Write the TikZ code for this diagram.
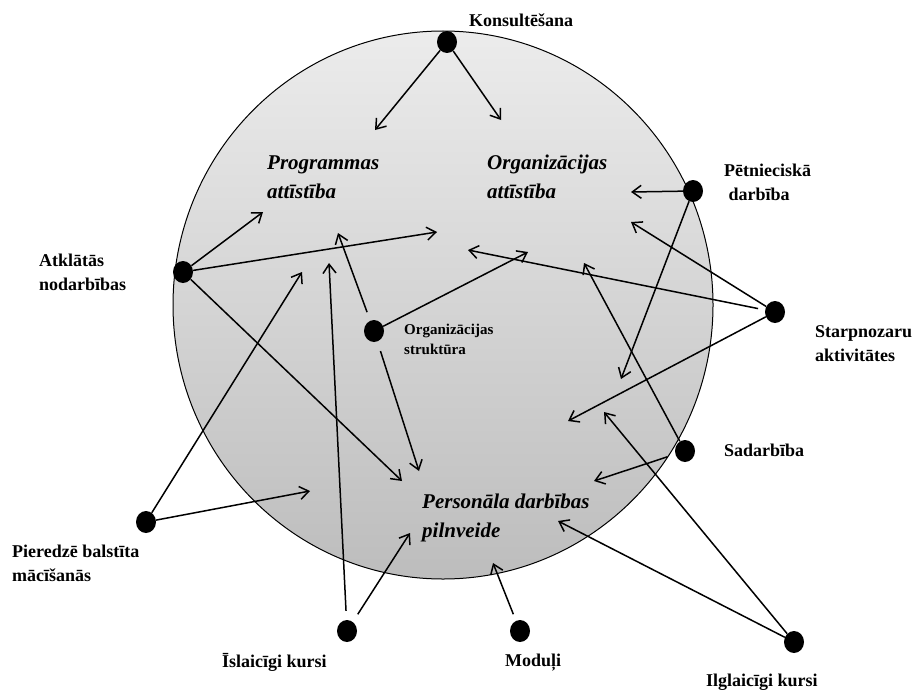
\documentclass[tikz,border=0pt]{standalone}
\usepackage{fontspec}
\setmainfont{Liberation Serif}
\usetikzlibrary{arrows.meta,shapes.geometric}

\begin{document}
\begin{tikzpicture}[x=1pt,y=-1pt,
    blob/.style={ellipse,fill=black,minimum width=20pt,minimum height=22pt,inner sep=0pt},
    lab/.style={anchor=base west,inner sep=0pt,align=left,font=\fontsize{18}{24}\selectfont\bfseries},
    sublab/.style={anchor=base west,inner sep=0pt,align=left,font=\fontsize{15}{20}\selectfont\bfseries},
    areal/.style={anchor=base west,inner sep=0pt,align=left,font=\fontsize{21}{29}\selectfont\bfseries\itshape},
    link/.style={line width=1.5pt,-{Straight Barb[length=9pt,width=13pt]}}]
    \useasboundingbox (0,0) rectangle (912,693);
    % the field
    \shadedraw [top color=gray!15,bottom color=gray!52,draw=black,line width=1pt]
        (443,305) ellipse [x radius=270pt,y radius=274pt];
    % areas inside (base = last line)
    \node [areal] (progr)  at (267,198) {Programmas\\attīstība};
    \node [areal] (orgatt) at (487,198) {Organizācijas\\attīstība};
    \node [areal] (pers)   at (422,537) {Personāla darbības\\pilnveide};
    % activities
    \node [blob] (konsult)  at (447,42)  {};
    \node [blob] (petn)     at (693,191) {};
    \node [blob] (starp)    at (775,312) {};
    \node [blob] (sadarb)   at (685,451) {};
    \node [blob] (ilgl)     at (794,642) {};
    \node [blob] (moduli)   at (520,631) {};
    \node [blob] (islaic)   at (347,631) {};
    \node [blob] (pieredze) at (146,522) {};
    \node [blob] (atkl)     at (183,272) {};
    \node [blob] (orgstr)   at (374,331) {};
    \node [lab] at (469,27)  {Konsultēšana};
    \node [lab] at (724,200) {Pētnieciskā\\\ darbība};
    \node [lab] at (815,361) {Starpnozaru\\aktivitātes};
    \node [lab] at (724,456) {Sadarbība};
    \node [lab] at (706,686) {Ilglaicīgi kursi};
    \node [lab] at (505,666) {Moduļi};
    \node [lab] at (222,667) {Īslaicīgi kursi};
    \node [lab] at (12,581)  {Pieredzē balstīta\\mācīšanās};
    \node [lab] at (39,290)  {Atklātās\\nodarbības};
    \node [sublab] at (404,354) {Organizācijas\\struktūra};
    % arrow ends
    \coordinate (k1) at (375,130);
    \coordinate (k2) at (501,120);
    \coordinate (a1) at (263,212);
    \coordinate (a2) at (437,232);
    \coordinate (a3) at (402,481);
    \coordinate (p1) at (302,272);
    \coordinate (p2) at (310,491);
    \coordinate (i1) at (329,263);
    \coordinate (i2) at (410,533);
    \coordinate (m1) at (493,563);
    \coordinate (l1) at (558,521);
    \coordinate (l2) at (604,412);
    \coordinate (s1) at (594,481);
    \coordinate (s2) at (584,263);
    \coordinate (e1) at (631,192);
    \coordinate (e2) at (621,379);
    \coordinate (t1) at (631,222);
    \coordinate (t2) at (468,250);
    \coordinate (t3) at (568,421);
    \coordinate (o1) at (528,252);
    \coordinate (o2) at (338,233);
    \coordinate (o3) at (419,471);
    % connectors
    \draw [link] (konsult) -- (k1);
    \draw [link] (konsult) -- (k2);
    \draw [link] (atkl) -- (a1);
    \draw [link] (atkl) -- (a2);
    \draw [link] (atkl) -- (a3);
    \draw [link] (pieredze) -- (p1);
    \draw [link] (pieredze) -- (p2);
    \draw [link,shorten <=9pt] (islaic) -- (i1);
    \draw [link,shorten <=9pt] (islaic) -- (i2);
    \draw [link,shorten <=7pt] (moduli) -- (m1);
    \draw [link] (ilgl) -- (l1);
    \draw [link] (ilgl) -- (l2);
    \draw [link,shorten <=8pt] (sadarb) -- (s1);
    \draw [link] (sadarb) -- (s2);
    \draw [link] (petn) -- (e1);
    \draw [link] (petn) -- (e2);
    \draw [link] (starp) -- (t1);
    \draw [link,shorten <=7pt] (starp) -- (t2);
    \draw [link] (starp) -- (t3);
    \draw [link] (orgstr) -- (o1);
    \draw [link,shorten <=9pt] (orgstr) -- (o2);
    \draw [link,shorten <=10pt] (orgstr) -- (o3);
\end{tikzpicture}
\end{document}
